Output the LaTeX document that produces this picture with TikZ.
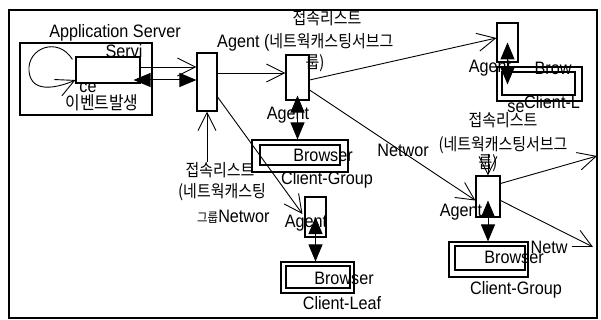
\documentclass[tikz,border=0pt]{standalone}
\usepackage{fontspec}
\setmainfont{Liberation Sans}[FakeStretch=0.9]
\newfontfamily\krfont{Noto Sans CJK KR}[FakeStretch=0.88]
\usetikzlibrary{arrows.meta}
\begin{document}
\begin{tikzpicture}[x=1pt,y=-1pt,
  box/.style={draw, line width=1.1pt, inner sep=0, minimum width=#1},
  txt/.style={inner sep=0, font=\fontsize{18}{19}\selectfont},
  ko/.style={inner sep=0, font=\krfont\fontsize{17}{18}\selectfont},
  openarr/.style={-{Straight Barb[length=18pt,width=18pt,line width=0.9pt]}, line width=0.9pt},
  dbl/.style={{Triangle[length=17pt,width=14pt]}-{Triangle[length=17pt,width=14pt]}, line width=1pt},
]
\useasboundingbox (0,0) rectangle (601,320);
% frame
\draw[line width=1.2pt] (9,10) rectangle (597,318);
\draw[line width=2.5pt] (9,10) -- (597,10);

% boxes
\node[box=132pt, minimum height=72pt] (appsrv) at (86,79) {};
\node[box=64pt, minimum height=26pt] (service) at (108,70) {};
\node[box=20pt, minimum height=58pt] (agent1) at (207,82) {};
\node[box=23pt, minimum height=45pt] (agent2) at (297.5,77.5) {};
\node[box=21pt, minimum height=40pt] (agent3) at (315.5,217) {};
\node[box=21pt, minimum height=39pt] (agent4) at (507.5,42.5) {};
\node[box=24pt, minimum height=41pt] (agent5) at (488,196.5) {};
\node[box=96pt, minimum height=32pt] (bgoneo) at (300,156) {};
\node[box=80pt, minimum height=20pt] (bgonei) at (300,155) {};
\node[box=73pt, minimum height=31pt] (bleafo) at (317.5,277.5) {};
\node[box=64pt, minimum height=22pt] (bleafi) at (318,277) {};
\node[box=85pt, minimum height=34pt] (btwoo) at (539.5,84) {};
\node[box=73pt, minimum height=23pt] (btwoi) at (538.5,83.5) {};
\node[box=79pt, minimum height=35pt] (bgtwoo) at (488.5,259.5) {};
\node[box=70pt, minimum height=24pt] (bgtwoi) at (490,258) {};

% texts
\node[txt] (tapp) at (115,33) {Application Server};
\node[txt] (tservi) at (124,51) {Servi};
\node[txt] (tce) at (88,88) {ce};
\node[ko, font=\krfont\fontsize{18}{19}\selectfont] (tevent) at (102,103) {이벤트발생};
\node[ko] (tlistA) at (327,18) {접속리스트};
\node[txt, anchor=west] (tagentA) at (217,42) {Agent ({\krfont\fontsize{17}{18}\selectfont 네트웍캐스팅서브그}};
\node[ko] (tgroupA) at (315,63) {룹)};
\node[txt] (tagent2) at (288,115) {Agent};
\node[txt] (tbrowser1) at (323,155) {Browser};
\node[txt] (tcg1) at (327,180) {Client-Group};
\node[ko] (tlistL1) at (220,170) {접속리스트};
\node[ko] (tlistL2) at (222,192) {(네트웍캐스팅};
\node[txt, anchor=west] (tlistL3) at (197,217) {{\krfont\fontsize{13}{14}\selectfont 그룹}Networ};
\node[txt] (tagent3) at (306,223) {Agent};
\node[txt] (tbrowser3) at (344,278) {Browser};
\node[txt] (tcleaf) at (342,303) {Client-Leaf};
\node[txt] (tagent4) at (490,68) {Agent};
\node[txt] (tbrow) at (553,68) {Brow};
\node[txt] (tse) at (516,108) {se};
\node[txt] (tclientl) at (552,102) {Client-L};
\node[ko] (tlistB1) at (503,120) {접속리스트};
\node[ko] (tlistB2) at (503,145) {(네트웍캐스팅서브그};
\node[ko] (tgroupB) at (488,163) {룹)};
\node[txt] (tnetwor) at (403,150) {Networ};
\node[txt] (tagent5) at (461,212) {Agent};
\node[txt] (tbrowser5) at (514,257) {Browser};
\node[txt] (tnetw) at (549,247) {Netw};
\node[txt] (tcg2) at (516,290) {Client-Group};

% connectors
\coordinate (loopL) at (29,71);
\draw[openarr] ([shift={(-3,3)}]service.north west) .. controls (58,36) and (27,48) .. (loopL)
  .. controls (31,96) and (62,86) .. ([yshift=-10pt]service.west);
\draw[openarr] ([yshift=3pt]service.east) -- ([yshift=3pt]service.east -| agent1.west);
\draw[dbl] ([xshift=-7pt,yshift=-10pt]service.east) -- ([yshift=-10pt]service.east -| agent1.west);
\draw[openarr] (agent1.south |- tlistL1.north) -- (agent1.south);
\draw[openarr] ([yshift=9pt]agent1.east) -- ([yshift=9pt]agent1.east -| agent2.west);
\draw[openarr] ([yshift=-15pt]agent1.east) -- ([xshift=-2pt,yshift=3pt]agent3.west);
\draw[dbl] ([yshift=5pt]agent2.south) -- (agent2.south |- bgoneo.north);
\draw[openarr] ([yshift=-2.5pt]agent2.east) -- ([yshift=4.5pt]agent4.west);
\draw[openarr] ([yshift=-12.5pt]agent2.east) -- ([yshift=-4pt]agent5.west);
\draw[dbl] (agent3.center) -- (agent3.center |- bleafo.north);
\draw[dbl] (agent4.center) -- ([yshift=-18pt]agent4.center |- btwoo.north);
\draw[dbl] ([yshift=-4pt]agent5.center) -- (agent5.center |- bgtwoo.north);
\draw[openarr] (agent5.north |- tlistB2.south) -- (agent5.north);
\coordinate (rtone) at (597,156);
\coordinate (rttwo) at (593,247);
\draw[openarr] ([yshift=13pt]agent5.east) -- (rtone);
\draw[openarr] ([yshift=-4pt]agent5.east) -- (rttwo);
\end{tikzpicture}
\end{document}
